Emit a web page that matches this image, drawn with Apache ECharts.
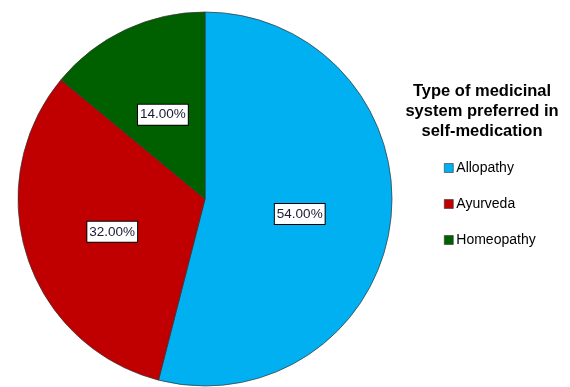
<!DOCTYPE html>
<html>
<head>
<meta charset="utf-8">
<script src="https://cdn.jsdelivr.net/npm/echarts@6/dist/echarts.min.js"></script>
<style>
  html, body { margin: 0; padding: 0; background: #fff; }
  #chart { width: 570px; height: 387px; }
</style>
</head>
<body>
<div id="chart"></div>
<script>
// Share of respondents by preferred medicinal system
const categories = ['Allopathy', 'Ayurveda', 'Homeopathy'];
const shares = [54, 32, 14];
const colors = ['#00B0F0', '#C00000', '#006000'];

const chart = echarts.init(document.getElementById('chart'), null, { renderer: 'canvas' });

const seriesData = categories.map((name, i) => ({
  name: name,
  value: shares[i],
  itemStyle: { color: colors[i] }
}));

chart.setOption({
  animation: false,
  backgroundColor: '#ffffff',
  title: {
    text: 'Type of medicinal\nsystem preferred in\nself-medication',
    left: 477,
    top: 76,
    textAlign: 'center',
    textStyle: {
      fontFamily: 'Liberation Sans, Arial, sans-serif',
      fontWeight: 'bold',
      fontSize: 16.5,
      lineHeight: 20,
      color: '#000'
    }
  },
  legend: {
    orient: 'vertical',
    left: 439,
    top: 156,
    itemGap: 22,
    itemWidth: 9,
    itemHeight: 9,
    icon: 'rect',
    selectedMode: false,
    data: categories,
    itemStyle: { borderColor: '#333', borderWidth: 0.6 },
    textStyle: {
      fontFamily: 'Liberation Sans, Arial, sans-serif',
      fontSize: 14,
      color: '#000',
      padding: [0, 0, 0, -2]
    }
  },
  series: [{
    type: 'pie',
    center: [205, 199],
    radius: 187,
    startAngle: 90,
    clockwise: true,
    avoidLabelOverlap: false,
    data: seriesData,
    itemStyle: { borderColor: '#333', borderWidth: 0.7 },
    label: {
      show: true,
      position: 'inside',
      formatter: p => p.value.toFixed(2) + '%',
      fontFamily: 'Liberation Sans, Arial, sans-serif',
      fontSize: 13.5,
      lineHeight: 15,
      color: '#1a1a33',
      backgroundColor: '#fff',
      borderColor: '#000',
      borderWidth: 1,
      padding: [3, 2, 2, 2],
      offset: [-1, 3]
    },
    labelLine: { show: false },
    emphasis: { disabled: true }
  }]
});
</script>
</body>
</html>
